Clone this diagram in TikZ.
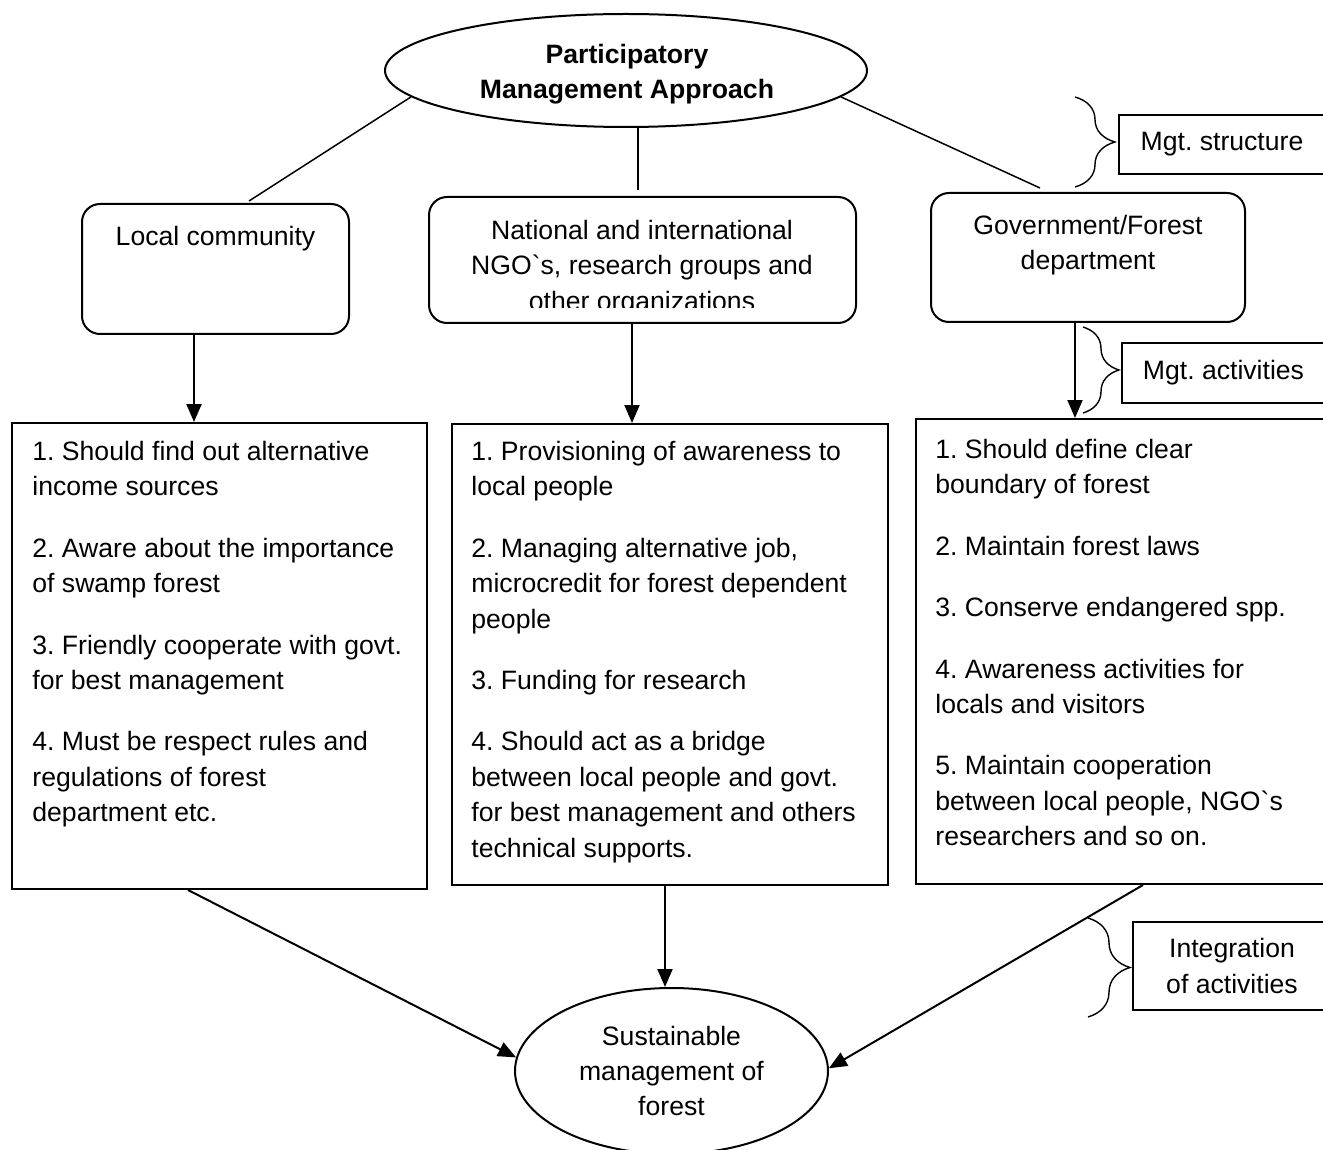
\documentclass[tikz,border=0pt]{standalone}
\usepackage{fontspec}
\setmainfont{Liberation Sans}[Ligatures=TeXOff]
\usetikzlibrary{shapes.geometric,arrows.meta,decorations.pathreplacing,calc}
\newcommand\fs{\fontsize{13.3}{17.7}\selectfont}
\newcommand\st{\rule{0pt}{12pt}}
\frenchspacing
\begin{document}
\frenchspacing
\begin{tikzpicture}[x=0.5pt,y=-0.5pt,font=\fs,
  rbox/.style={draw,line width=1pt,rounded corners=9pt,inner sep=0pt},
  lbox/.style={draw,line width=1pt,inner sep=0pt,align=center},
  ell/.style={ellipse,draw,line width=1pt,inner sep=0pt,align=center},
  conn/.style={line width=0.75pt},
  arr/.style={line width=1pt,-{Triangle[length=9pt,width=7.5pt]}},
  txt/.style={inner sep=0pt,anchor=north west,align=left},
  txtc/.style={inner sep=0pt,anchor=north,align=center},
  brc/.style={decorate,line width=0.7pt}]
\useasboundingbox (0,0) rectangle (1323,1150);
\clip (0,0) rectangle (1323,1150);

% top ellipse
\node[ell,minimum width=241pt,minimum height=56.5pt] (top) at (626,70.5) {};
\node[inner sep=0pt,align=center,font=\fs\bfseries] (topt) at (627,74) {Participatory\\Management Approach};

% stakeholder boxes
\node[rbox,minimum width=133.5pt,minimum height=65pt] (lc) at (215.5,269) {};
\node[txtc] (lct) at (215.5,221) {\st Local community};
\node[rbox,minimum width=213.5pt,minimum height=63pt] (ngo) at (642.5,260) {};
\begin{scope}
\clip (0,0) rectangle (1323,308);
\node[txtc] (ngot) at (642,215) {\st National and international\\NGO`s, research groups and\\other organizations};
\end{scope}
\node[rbox,minimum width=157pt,minimum height=64.5pt] (gov) at (1088,257.5) {};
\node[txtc] (govt) at (1088,210) {\st Government/Forest\\department};

% connectors from top ellipse
\coordinate (c1) at (249,201);
\coordinate (c2) at (638,190);
\coordinate (c3) at (1040,188);
\draw[conn] (top.187) -- (c1);
\draw[conn] (top.south -| c2) -- (c2);
\draw[conn] (top.-7) -- (c3);

% list boxes
\node[lbox,minimum width=207.5pt,minimum height=233pt] (ll) at (219.5,656) {};
\node[lbox,minimum width=218pt,minimum height=230.5pt] (ml) at (670,654.5) {};
\node[lbox,minimum width=207pt,minimum height=232.5pt] (rl) at (1123,651.5) {};

\node[txt] (llt) at (32,436) {\st1. Should find out alternative\\income sources\\[13pt]2. Aware about the importance\\of swamp forest\\[13pt]3. Friendly cooperate with govt.\\for best management\\[13pt]4. Must be respect rules and\\regulations of forest\\department etc.};
\node[txt] (mlt) at (471,436) {\st1. Provisioning of awareness to\\local people\\[13pt]2. Managing alternative job,\\microcredit for forest dependent\\people\\[13pt]3. Funding for research\\[13pt]4. Should act as a bridge\\between local people and govt.\\for best management and others\\technical supports.};
\node[txt] (rlt) at (935,434) {\st1. Should define clear\\boundary of forest\\[13pt]2. Maintain forest laws\\[13pt]3. Conserve endangered spp.\\[13pt]4. Awareness activities for\\locals and visitors\\[13pt]5. Maintain cooperation\\between local people, NGO`s\\researchers and so on.};

% arrows down
\coordinate (a1) at (194,0);
\coordinate (a2) at (632,0);
\coordinate (a3) at (1075,0);
\draw[arr] (a1 |- lc.south) -- (a1 |- ll.north);
\draw[arr] (a2 |- ngo.south) -- (a2 |- ml.north);
\draw[arr] (a3 |- gov.south) -- (a3 |- rl.north);

% bottom ellipse
\node[ell,minimum width=156.5pt,minimum height=83pt] (sus) at (671.5,1071) {Sustainable\\management of\\forest};

\coordinate (a4) at (665,0);
\coordinate (d1) at (188,0);
\coordinate (d2) at (1143,0);
\draw[arr] (d1 |- ll.south) -- (sus.175);
\draw[arr] (a4 |- ml.south) -- (a4 |- sus.north);
\draw[arr] (d2 |- rl.south) -- (sus.1);

% side labels
\node[lbox,minimum width=103pt,minimum height=29.5pt] (ms) at (1222,144.5) {Mgt. structure};
\node[lbox,minimum width=101.5pt,minimum height=30pt] (ma) at (1223.5,373) {Mgt. activities};
\node[lbox,minimum width=99pt,minimum height=44pt] (ia) at (1232,966) {Integration\\of activities};

% braces
\coordinate (b1s) at (1075,97);
\coordinate (b1e) at (1075,187);
\coordinate (b2s) at (1083,327);
\coordinate (b2e) at (1083,413);
\coordinate (b3s) at (1088,918);
\coordinate (b3e) at (1088,1017);
\draw[brc,decoration={brace,amplitude=20pt}] (b1s) -- (b1e);
\draw[brc,decoration={brace,amplitude=18pt}] (b2s) -- (b2e);
\draw[brc,decoration={brace,amplitude=21pt}] (b3s) -- (b3e);
\end{tikzpicture}
\end{document}
